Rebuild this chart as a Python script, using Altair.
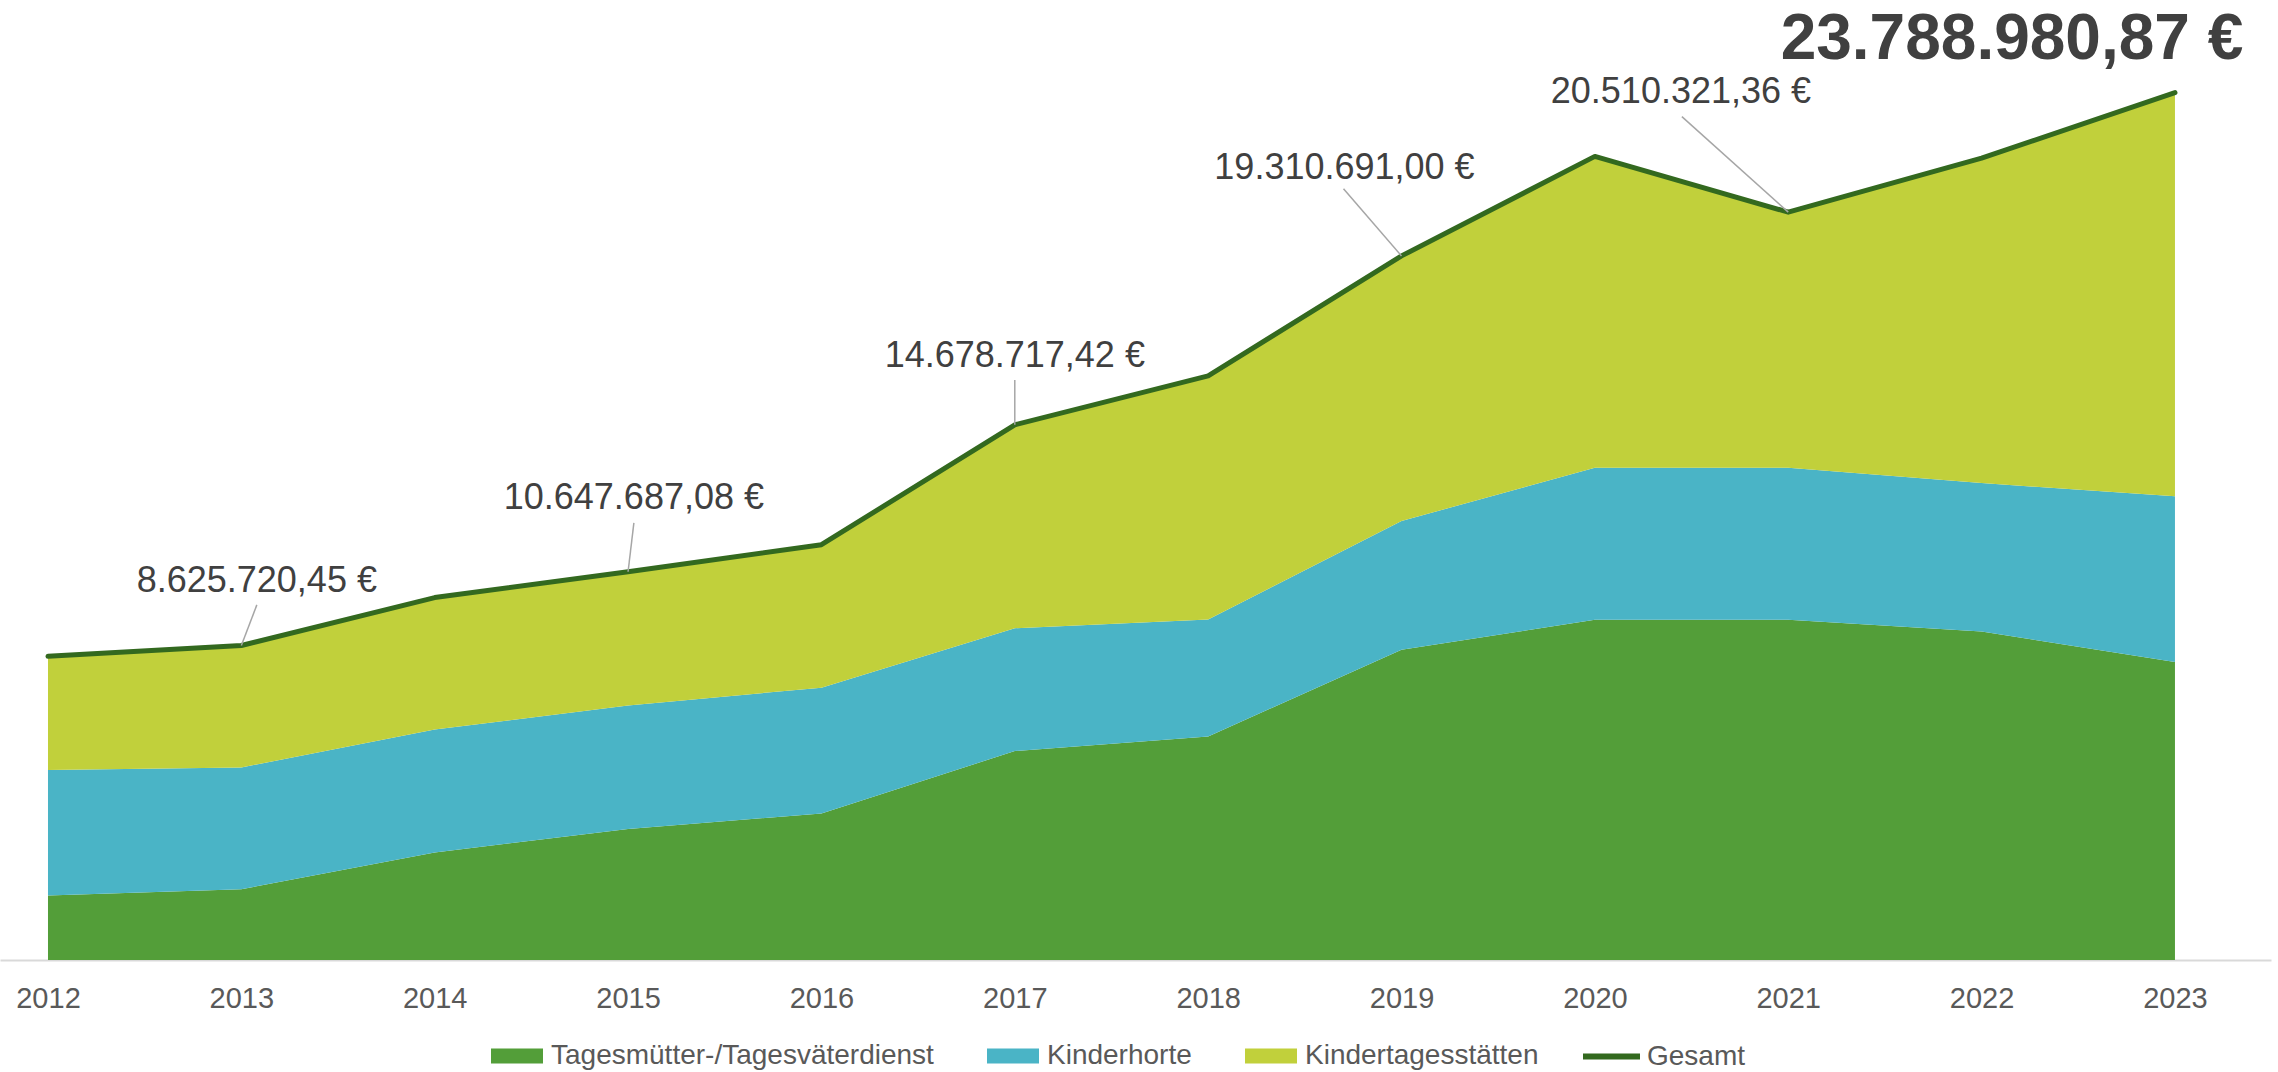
import altair as alt
import pandas as pd

# ---- data (values in million €) ----
years = [2012, 2013, 2014, 2015, 2016, 2017, 2018, 2019, 2020, 2021, 2022, 2023]
tagesmuetter = [1.77, 1.94, 2.95, 3.59, 4.02, 5.73, 6.13, 8.51, 9.33, 9.33, 9.01, 8.17]
kinderhorte = [3.44, 3.34, 3.37, 3.39, 3.45, 3.37, 3.21, 3.53, 4.17, 4.17, 4.07, 4.55]
kitas = [3.12, 3.3457, 3.62, 3.6577, 3.92, 5.5787, 6.68, 7.2707, 8.54, 7.0103, 8.91, 11.069]
gesamt = [8.33, 8.6257, 9.94, 10.6477, 11.39, 14.6787, 16.02, 19.3107, 22.04, 20.5103, 21.99, 23.789]

series_names = ["Tagesmütter-/Tagesväterdienst", "Kinderhorte", "Kindertagesstätten"]
series_colors = ["#539E39", "#4AB4C6", "#C1D03B"]
line_name = "Gesamt"
line_color = "#33691F"

# annotation labels (placed in data space)
label_texts = ["8.625.720,45 €", "10.647.687,08 €", "14.678.717,42 €",
               "19.310.691,00 €", "20.510.321,36 €"]
label_years = [2013.08, 2015.03, 2017.0, 2018.705, 2020.445]
label_vals = [10.40, 12.67, 16.57, 21.71, 23.81]
leader_pt_years = [2013, 2015, 2017, 2019, 2021]
leader_pt_vals = [8.6257, 10.6477, 14.6787, 19.3107, 20.5103]
leader_top_years = [2013.08, 2015.03, 2017.0, 2018.70, 2020.45]
leader_top_vals = [9.74, 11.99, 15.91, 21.15, 23.13]

big_text = ["23.788.980,87 €"]
big_year = [2022.157]
big_val = [25.22]

# ---- tables ----
rows = []
for i, y in enumerate(years):
    for k, (name, vals) in enumerate(zip(series_names, [tagesmuetter, kinderhorte, kitas])):
        rows.append({"Jahr": y, "Reihe": name, "Wert": vals[i], "ord": k})
area_df = pd.DataFrame(rows)
line_df = pd.DataFrame({"Jahr": years, "Wert": gesamt, "Reihe": [line_name] * len(years)})
lab_df = pd.DataFrame({"Jahr": label_years, "Wert": label_vals, "t": label_texts})
lead_df = pd.DataFrame({"Jahr": leader_pt_years, "Wert": leader_pt_vals,
                        "x2": leader_top_years, "y2": leader_top_vals})
big_df = pd.DataFrame({"Jahr": big_year, "Wert": big_val, "t": big_text})

FONT = "Liberation Sans"
W, H = 2271, 948
xscale = alt.Scale(domain=[2011.7518, 2023.4967], nice=False, zero=False)
yscale = alt.Scale(domain=[0, 26], nice=False)
xaxis = alt.Axis(values=years, format="d", title=None, grid=False, ticks=False,
                 domainColor="#D9D9D9", domainWidth=2, labelFontSize=29,
                 labelColor="#595959", labelFont=FONT, labelPadding=24,
                 labelFlush=False, labelOverlap=False)
X = alt.X("Jahr:Q", scale=xscale, axis=xaxis)
Y = alt.Y("Wert:Q", scale=yscale, axis=None)

area = alt.Chart(area_df).mark_area(opacity=1, interpolate="linear").encode(
    x=X,
    y=alt.Y("Wert:Q", stack="zero", scale=yscale, axis=None),
    color=alt.Color("Reihe:N",
                    scale=alt.Scale(domain=series_names, range=series_colors),
                    legend=alt.Legend(orient="none", legendX=491, legendY=1018,
                                      direction="horizontal", columns=3, title=None,
                                      symbolType="M-1,-0.29H1V0.29H-1Z", symbolSize=2704,
                                      symbolStrokeWidth=0, symbolOpacity=1,
                                      labelFontSize=28, labelColor="#595959", labelFont=FONT,
                                      labelLimit=800,
                                      labelOffset=8, columnPadding=53, padding=0)),
    order=alt.Order("ord:Q", sort="ascending"),
)

line = alt.Chart(line_df).mark_line(strokeWidth=5, strokeCap="round", strokeJoin="round").encode(
    x=X,
    y=Y,
    stroke=alt.Stroke("Reihe:N", scale=alt.Scale(domain=[line_name], range=[line_color]),
                      legend=alt.Legend(orient="none", legendX=1580, legendY=1013,
                                        title=None, symbolType="stroke", symbolSize=3249,
                                        symbolStrokeWidth=6, labelLimit=400,
                                        labelFontSize=28, labelColor="#595959", labelFont=FONT,
                                        labelOffset=4, padding=0)),
)

leaders = alt.Chart(lead_df).mark_rule(color="#A6A6A6", strokeWidth=1.5).encode(
    x=X,
    y=Y,
    x2="x2:Q",
    y2="y2:Q",
)

labels = alt.Chart(lab_df).mark_text(font=FONT, fontSize=36, color="#404040",
                                      align="center", baseline="middle").encode(
    x=X,
    y=Y,
    text="t:N",
)

big = alt.Chart(big_df).mark_text(font=FONT, fontSize=64, fontWeight="bold", color="#404040",
                                   align="center", baseline="middle").encode(
    x=X,
    y=Y,
    text="t:N",
)

chart = alt.layer(area, line, leaders, labels, big).resolve_scale(
    color="independent", stroke="independent"
).properties(
    width=W, height=H, autosize="none", background="white",
    padding={"left": 0, "top": 12, "right": 7, "bottom": 112},
).configure_view(strokeWidth=0)

chart.save("out.html", embed_options={"renderer": "svg", "actions": False})
